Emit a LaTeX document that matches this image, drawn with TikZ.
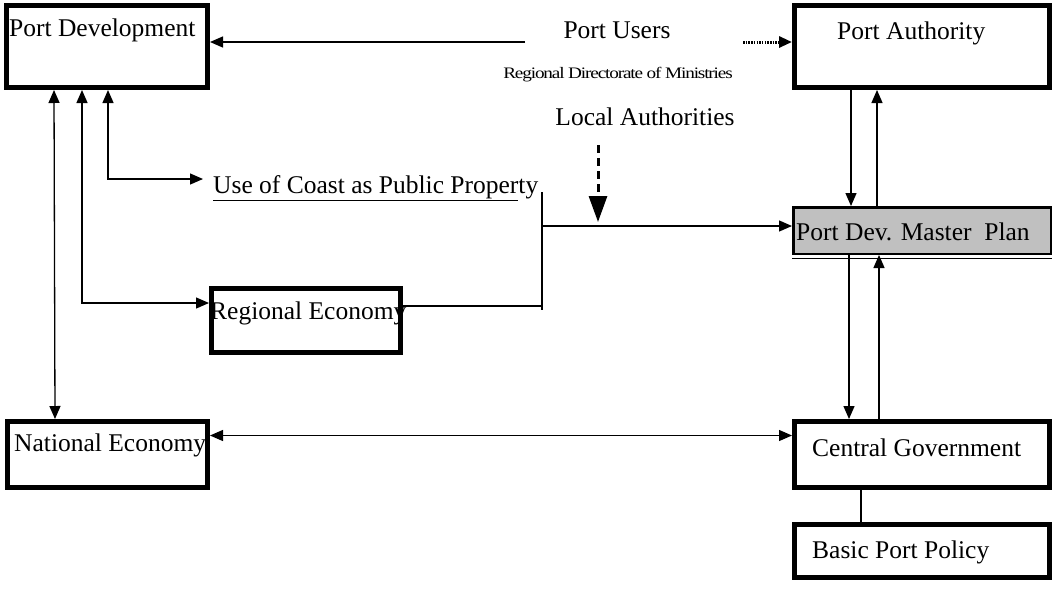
\documentclass[tikz,border=0pt]{standalone}
\usepackage{fontspec}
\setmainfont{Liberation Serif}
\usetikzlibrary{arrows.meta}
\definecolor{plangray}{RGB}{192,192,192}
\tikzset{
   box/.style={draw, line width=5pt, inner sep=0pt},
   txt/.style={inner sep=0pt, anchor=west, font=\fontsize{25.5}{28}\selectfont},
   tip/.style={-{Triangle[length=13pt,width=11pt]}},
   con/.style={line width=1.3pt, tip},
   dcon/.style={line width=1.3pt, {Triangle[length=13pt,width=11pt]}-{Triangle[length=13pt,width=11pt]}},
}

\begin{document}
\begin{tikzpicture}[x=1pt,y=-1pt]
   \useasboundingbox[fill=white] (0,0) rectangle (1055,592);

   %%%%%%%%%% boxes
   \node[box, minimum width=201, minimum height=82] (pd) at (107,46.5) {};
   \node[box, minimum width=255, minimum height=82] (pa) at (922,46.5) {};
   \node[box, line width=2.5pt, fill=plangray, minimum width=257.5, minimum height=46.5] (mp) at (922,230.5) {};
   \node[box, minimum width=189, minimum height=64] (re) at (306,320.5) {};
   \node[box, minimum width=200, minimum height=66] (ne) at (107.5,454.5) {};
   \node[box, minimum width=255, minimum height=66] (cg) at (922,454.5) {};
   \node[box, minimum width=255, minimum height=53] (bp) at (922,551) {};
   \draw[line width=1pt] ([yshift=-3pt]mp.south west) -- ([yshift=-3pt]mp.south east);

   %%%%%%%%%% texts
   \node[txt] (pdt) at (9,30) {Port Development};
   \node[txt] (pat) at (837,33) {Port Authority};
   \node[txt] (mpt) at (796,232) {Port Dev. Master\ \ Plan};
   \node[txt] (use) at (213,188) {\underline{Use of Coast as Public Proper}ty};
   \node[txt] (ret) at (210,313) {Regional Economy};
   \node[txt] (net) at (14,445) {National Economy};
   \node[txt] (cgt) at (812,448) {Central Government};
   \node[txt] (bpt) at (812,552) {Basic Port Policy};
   \node[txt, anchor=center] (pu) at (617,30) {Port Users};
   \node[txt, anchor=center, font=\fontsize{16}{18}\selectfont\addfontfeature{LetterSpace=-6}] (rd) at (618,75) {\scalebox{1.2}[1]{Regional Directorate of Ministries}};
   \node[txt, anchor=center] (la) at (645,117) {Local Authorities};

   %%%%%%%%%% connectors
   \coordinate (puw) at (525,42);
   \coordinate (pue) at (743,42);
   \coordinate (lat) at (598,145);
   \coordinate (jt) at (542,192);
   \coordinate (jn) at (542,226);
   \coordinate (jb) at (542,310);

   \draw[con] (puw) -- (puw -| pd.east);
   \draw[tip, line width=3pt, dash pattern=on 1.5pt off 1.2pt] (pue) -- (pue -| pa.west);

   \draw[dcon] ([xshift=50pt]pd.south west) -- ([xshift=50pt]ne.north west);
   \draw[dcon] ([xshift=78pt]pd.south west) |- ([yshift=17.5pt]re.west);
   \draw[dcon] ([xshift=104pt]pd.south west) |- ([xshift=-10pt,yshift=9pt]use.west);

   \draw[line width=1.3pt] (jt) -- (jb);
   \draw[line width=1.3pt] ([yshift=14.5pt]re.east) -| (jn);
   \draw[con] (jn) -- (jn -| mp.west);
   \draw[line width=3pt, dash pattern=on 8pt off 5pt, -{Triangle[length=26pt,width=18pt]}] (lat) -- ([yshift=4pt]lat |- jn);

   \draw[con] ([xshift=59pt]pa.south west) -- ([xshift=59pt]mp.north west);
   \draw[con] ([xshift=85pt]mp.north west) -- ([xshift=85pt]pa.south west);
   \draw[con] ([xshift=57pt]mp.south west) -- ([xshift=57pt]cg.north west);
   \draw[con] ([xshift=87pt]cg.north west) -- ([xshift=87pt]mp.south west);
   \draw[line width=1.3pt] ([xshift=69pt]cg.south west) -- ([xshift=69pt]bp.north west);

   \draw[dcon] ([yshift=19pt]ne.east) -- ([yshift=19pt]cg.west);
\end{tikzpicture}
\end{document}
